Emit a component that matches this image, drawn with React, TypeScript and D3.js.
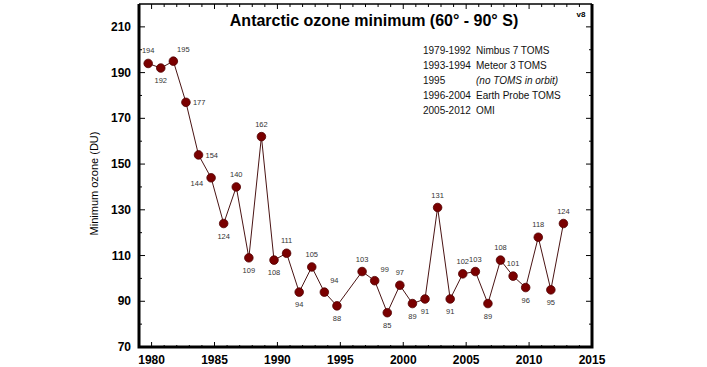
import React, { useRef, useEffect } from "react";
import * as d3 from "d3";

// yearly minimum ozone (DU), 1995 missing (no TOMS in orbit)
const years = [1979, 1980, 1981, 1982, 1983, 1984, 1985, 1986, 1987, 1988, 1989, 1990, 1991, 1992, 1993, 1994,
	1996, 1997, 1998, 1999, 2000, 2001, 2002, 2003, 2004, 2005, 2006, 2007, 2008, 2009, 2010, 2011, 2012];
const ozone = [194, 192, 195, 177, 154, 144, 124, 140, 109, 162, 108, 111, 94, 105, 94, 88,
	103, 99, 85, 97, 89, 91, 131, 91, 102, 103, 89, 108, 101, 96, 118, 95, 124];
// where each value label sits relative to its point
const labelSide = ["t", "b", "tr", "r", "r", "bl", "b", "t", "b", "t", "b", "t", "b", "t", "tr", "b",
	"t", "tr", "b", "t", "b", "b", "t", "b", "t", "t", "b", "t", "t", "b", "t", "b", "t"];

const legendYears = ["1979-1992", "1993-1994", "1995", "1996-2004", "2005-2012"];
const legendNames = ["Nimbus 7 TOMS", "Meteor 3 TOMS", "(no TOMS in orbit)", "Earth Probe TOMS", "OMI"];

const xTicks = [1980, 1985, 1990, 1995, 2000, 2005, 2010, 2015];
const yTicks = [70, 90, 110, 130, 150, 170, 190, 210];

export default function App() {

	const ref = useRef<SVGSVGElement>(null);

	let layout = {"width": 707, "height": 367, "left": 139, "right": 592, "top": 4, "bottom": 347};

	useEffect(() => {

		let svg = d3.select(ref.current);
		svg.selectAll("*").remove();

		let font = "Liberation Sans, Arial, sans-serif";

		// sampled around mid september each year
		let offset = 0.73;

		let xScale = d3.scaleLinear().domain([1979, 2015]).range([layout.left, layout.right]);
		let yScale = d3.scaleLinear().domain([70, 220]).range([layout.bottom, layout.top]);

		let ticks = svg.append("g").attr("stroke", "#000").attr("stroke-width", 1);

		// top & bottom year ticks
		for (let y of d3.range(1980, 2015)) {
			let major = y % 5 === 0;
			ticks.append("line")
				.attr("x1", xScale(y)).attr("x2", xScale(y))
				.attr("y1", layout.top).attr("y2", layout.top + (major ? 5 : 3));
			ticks.append("line")
				.attr("x1", xScale(y)).attr("x2", xScale(y))
				.attr("y1", layout.bottom).attr("y2", layout.bottom - (major ? 5 : 2));
		}

		// left & right ozone ticks
		for (let v of d3.range(80, 220, 10)) {
			let major = yTicks.includes(v);
			ticks.append("line")
				.attr("x1", layout.left).attr("x2", layout.left + (major ? 6 : 3))
				.attr("y1", yScale(v)).attr("y2", yScale(v));
			ticks.append("line")
				.attr("x1", layout.right).attr("x2", layout.right - (major ? 6 : 3))
				.attr("y1", yScale(v)).attr("y2", yScale(v));
		}

		// frame
		svg.append("line").attr("x1", layout.left).attr("x2", layout.right)
			.attr("y1", layout.top).attr("y2", layout.top)
			.attr("stroke", "#000").attr("stroke-width", 1.5);
		svg.append("path")
			.attr("d", `M${layout.left},${layout.top} V${layout.bottom} H${layout.right} V${layout.top}`)
			.attr("fill", "none").attr("stroke", "#000").attr("stroke-width", 3);

		svg.selectAll(".xlab")
			.data(xTicks)
			.join("text")
			.attr("class", "xlab")
			.attr("x", d => xScale(d))
			.attr("y", layout.bottom + 17)
			.attr("text-anchor", "middle")
			.attr("font-family", font).attr("font-weight", "bold").attr("font-size", 12)
			.text(d => d);

		svg.selectAll(".ylab")
			.data(yTicks)
			.join("text")
			.attr("class", "ylab")
			.attr("x", layout.left - 8)
			.attr("y", d => yScale(d) + 4)
			.attr("text-anchor", "end")
			.attr("font-family", font).attr("font-weight", "bold").attr("font-size", 12)
			.text(d => d);

		svg.append("text")
			.attr("transform", `translate(98, ${(layout.top + layout.bottom) / 2 + 8}) rotate(-90)`)
			.attr("text-anchor", "middle")
			.attr("font-family", font).attr("font-size", 11)
			.text("Minimum ozone (DU)");

		svg.append("text")
			.attr("x", 374).attr("y", 26)
			.attr("text-anchor", "middle")
			.attr("font-family", font).attr("font-weight", "bold").attr("font-size", 16)
			.text("Antarctic ozone minimum (60° - 90° S)");

		svg.append("text")
			.attr("x", 581).attr("y", 17)
			.attr("text-anchor", "middle")
			.attr("font-family", font).attr("font-weight", "bold").attr("font-size", 8)
			.text("v8");

		// legend
		let legend = svg.append("g").attr("font-family", font).attr("font-size", 10).attr("fill", "#111");
		legendYears.forEach((t, i) => {
			legend.append("text").attr("x", 423).attr("y", 54 + i * 15).text(t);
			legend.append("text").attr("x", 476).attr("y", 54 + i * 15)
				.attr("font-style", t === "1995" ? "italic" : "normal")
				.text(legendNames[i]);
		});

		let points = years.map((y, i) => ({x: y + offset, v: ozone[i], side: labelSide[i]}));

		let line = d3.line<any>().x(d => xScale(d.x)).y(d => yScale(d.v));

		svg.append("path")
			.datum(points)
			.attr("d", line)
			.attr("fill", "none")
			.attr("stroke", "#4a1414")
			.attr("stroke-width", 1);

		svg.selectAll(".pt")
			.data(points)
			.join("circle")
			.attr("class", "pt")
			.attr("cx", d => xScale(d.x))
			.attr("cy", d => yScale(d.v))
			.attr("r", 4.3)
			.attr("fill", "#7a0000")
			.attr("stroke", "#520000")
			.attr("stroke-width", 0.8);

		let place: any = {
			"t": [0, -10, "middle"],
			"b": [0, 15, "middle"],
			"r": [7, 3, "start"],
			"tr": [10, -9, "middle"],
			"bl": [-8, 8, "end"]
		};

		svg.selectAll(".vlab")
			.data(points)
			.join("text")
			.attr("class", "vlab")
			.attr("x", d => xScale(d.x) + place[d.side][0])
			.attr("y", d => yScale(d.v) + place[d.side][1])
			.attr("text-anchor", d => place[d.side][2])
			.attr("font-family", font).attr("font-size", 7.5)
			.attr("fill", "#333")
			.text(d => d.v);

	}, []);

	return (
		<svg ref={ref} width={layout.width} height={layout.height}
			style={{position: "absolute", left: 0, top: 0, background: "#fff"}} />
	);

}
